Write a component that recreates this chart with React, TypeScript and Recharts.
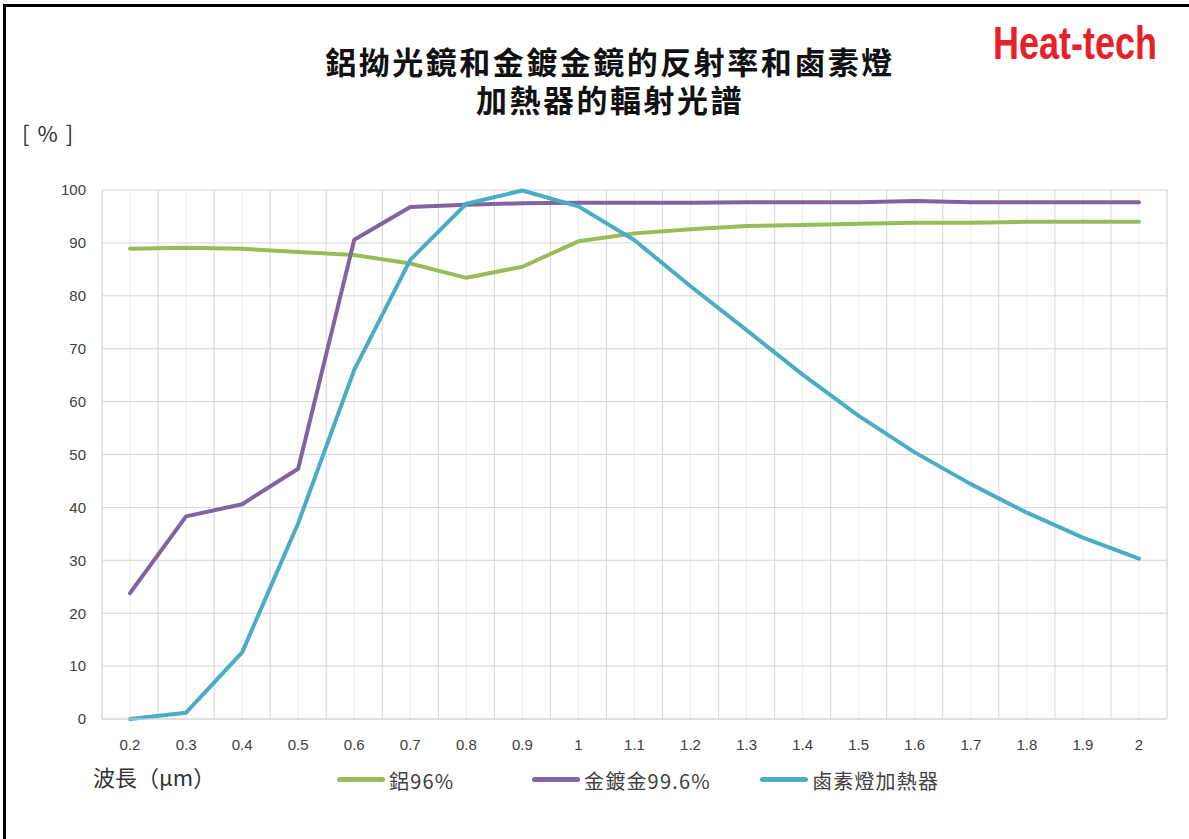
import React from 'react';
import { LineChart, Line, XAxis, YAxis, CartesianGrid, Legend } from 'recharts';

const wavelengths = [0.2, 0.3, 0.4, 0.5, 0.6, 0.7, 0.8, 0.9, 1, 1.1, 1.2, 1.3, 1.4, 1.5, 1.6, 1.7, 1.8, 1.9, 2];
const xBoundaries = [0.15, 0.25, 0.35, 0.45, 0.55, 0.65, 0.75, 0.85, 0.95, 1.05, 1.15, 1.25, 1.35, 1.45, 1.55, 1.65, 1.75, 1.85, 1.95, 2.05];
const yTicks = [0, 10, 20, 30, 40, 50, 60, 70, 80, 90, 100];

const aluminium = [88.9, 89.1, 88.9, 88.3, 87.7, 86.1, 83.4, 85.5, 90.3, 91.8, 92.6, 93.2, 93.4, 93.6, 93.8, 93.8, 94.0, 94.0, 94.0];
const goldPlated = [23.8, 38.3, 40.6, 47.3, 90.6, 96.8, 97.2, 97.5, 97.6, 97.6, 97.6, 97.7, 97.7, 97.7, 97.9, 97.7, 97.7, 97.7, 97.7];
const halogen = [0, 1.2, 12.6, 37.0, 66.0, 86.8, 97.4, 99.9, 96.9, 90.5, 81.8, 73.5, 65.1, 57.3, 50.4, 44.4, 39.0, 34.3, 30.3];

const seriesNames = ['鋁96%', '金鍍金99.6%', '鹵素燈加熱器'];
const seriesColors = ['#9bbb59', '#8064a2', '#4bacc6'];
const titleLines = ['鋁拗光鏡和金鍍金鏡的反射率和鹵素燈', '加熱器的輻射光譜'];

const data = wavelengths.map((w, i) => ({
  w,
  al: aluminium[i],
  au: goldPlated[i],
  hal: halogen[i],
}));

const legendItemWidths = [195, 228, 240];
const CJK = '"Noto Sans CJK TC", "Noto Sans CJK SC", sans-serif';
const NUM = '"Liberation Sans Narrow", "Liberation Sans", Arial, sans-serif';

const LegendContent = (props: any) => {
  const payload = [...(props.payload || [])].sort(
    (a: any, b: any) => seriesNames.indexOf(a.value) - seriesNames.indexOf(b.value)
  );
  return (
    <div style={{ display: 'flex', alignItems: 'center', whiteSpace: 'nowrap' }}>
      {payload.map((p: any, i: number) => (
        <div key={i} style={{ width: legendItemWidths[i], display: 'flex', alignItems: 'center' }}>
          <span style={{ display: 'inline-block', width: 48, height: 5, borderRadius: 3, background: p.color, marginTop: -3 }} />
          <span style={{ fontFamily: CJK, fontSize: 20, letterSpacing: 1.2, color: '#404040', marginLeft: 4 }}>{p.value}</span>
        </div>
      ))}
    </div>
  );
};

export default function App() {
  return (
    <div style={{ position: 'absolute', left: 0, top: 0, width: 1189, height: 839, background: '#fff', overflow: 'hidden' }}>
      <div style={{ position: 'absolute', left: 3, top: 4, width: 1300, height: 900, borderTop: '3px solid #000', borderLeft: '3px solid #000' }} />
      <div style={{ position: 'absolute', left: 0, top: 0 }}>
        <LineChart width={1189} height={839} data={data} margin={{ top: 190, right: 22, bottom: 90, left: 42 }}>
          <XAxis xAxisId="bounds" dataKey="w" type="number" orientation="top" height={0} domain={[0.15, 2.05]} ticks={xBoundaries} hide />
          <CartesianGrid xAxisId="main" horizontal={false} vertical stroke="#ebebeb" strokeWidth={1} />
          <CartesianGrid xAxisId="bounds" horizontal vertical stroke="#d6d6d6" strokeWidth={1} />
          <XAxis
            xAxisId="main"
            dataKey="w"
            type="number"
            domain={[0.15, 2.05]}
            ticks={wavelengths}
            interval={0}
            height={30}
            tickLine={false}
            axisLine={{ stroke: '#d6d6d6' }}
            tickSize={6}
            tickMargin={14}
            tick={{ fontFamily: NUM, fontSize: 15, fill: '#404040' }}
          />
          <YAxis
            domain={[0, 100]}
            ticks={yTicks}
            interval={0}
            width={60}
            axisLine={false}
            tickLine={false}
            tickSize={6}
            tickMargin={10}
            tick={{ fontFamily: NUM, fontSize: 15, fill: '#404040' }}
          />
          <Legend
            layout="horizontal"
            verticalAlign="middle"
            align="center"
            content={<LegendContent />}
            wrapperStyle={{ left: 337, top: 766, width: 700, height: 30 }}
          />
          <Line xAxisId="main" dataKey="al" name={seriesNames[0]} stroke={seriesColors[0]} strokeWidth={4} dot={false} isAnimationActive={false} strokeLinejoin="round" strokeLinecap="round" />
          <Line xAxisId="main" dataKey="au" name={seriesNames[1]} stroke={seriesColors[1]} strokeWidth={4} dot={false} isAnimationActive={false} strokeLinejoin="round" strokeLinecap="round" />
          <Line xAxisId="main" dataKey="hal" name={seriesNames[2]} stroke={seriesColors[2]} strokeWidth={4} dot={false} isAnimationActive={false} strokeLinejoin="round" strokeLinecap="round" />
        </LineChart>
      </div>
      <div style={{ position: 'absolute', left: 110, width: 1000, top: 42, textAlign: 'center', fontFamily: CJK, fontWeight: 700, fontSize: 31, lineHeight: '38px', letterSpacing: 2.5, color: '#111' }}>
        {titleLines[0]}
        <br />
        {titleLines[1]}
      </div>
      <svg style={{ position: 'absolute', left: 985, top: 14 }} width={190} height={60}>
        <text x={8} y={35} fontFamily={NUM} fontWeight={700} fontSize={36} fill="#e8202a" transform="scale(1,1.3)">Heat-tech</text>
      </svg>
      <div style={{ position: 'absolute', left: 22, top: 117, fontFamily: CJK, fontSize: 22, letterSpacing: 8, color: '#333', lineHeight: '30px' }}>[%]</div>
      <div style={{ position: 'absolute', left: 93, top: 761, fontFamily: CJK, fontSize: 22, color: '#333', lineHeight: '30px' }}>波長（μm）</div>
    </div>
  );
}
